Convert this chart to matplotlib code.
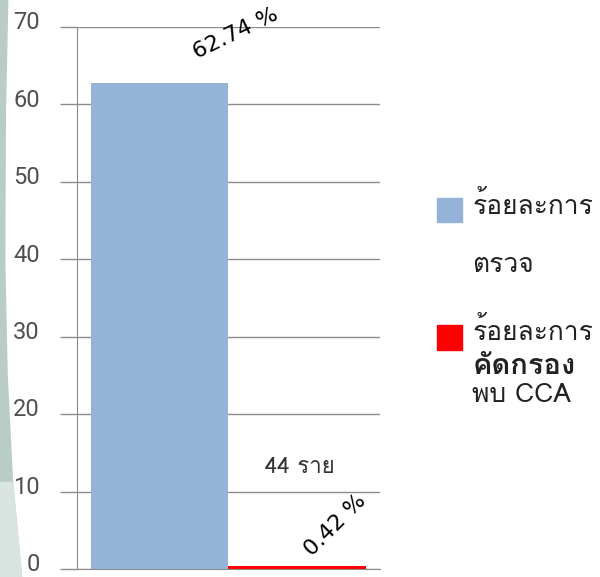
import numpy as np
import matplotlib.pyplot as plt
from matplotlib import font_manager
from matplotlib.ft2font import FT2Font
from matplotlib.patches import Polygon, Rectangle

# bar values (percent) and labels
categories = ["ตรวจ", "คัดกรอง"]
values = [62.74, 0.42]
bar_colors = ["#95b3d7", "#ff0000"]
value_labels = ["62.74 %", "0.42 %"]
count_label = "44 ราย"
yticks = [0, 10, 20, 30, 40, 50, 60, 70]


def pick_font(preferred, test_char):
    paths = sorted(font_manager.findSystemFonts())
    for name in preferred:
        for path in paths:
            if path.split("/")[-1] == name:
                return font_manager.FontProperties(fname=path).get_name()
    for path in paths:
        try:
            if FT2Font(path).get_char_index(ord(test_char)):
                return font_manager.FontProperties(fname=path).get_name()
        except Exception:
            continue
    return "DejaVu Sans"


thai = pick_font(["Waree.ttf", "Waree.otf", "Loma.otf", "Loma.ttf"], "ร")
plt.rcParams["font.family"] = [thai, "DejaVu Sans"]

fig = plt.figure(figsize=(6.0, 5.77), dpi=100)

# soft curved strip on the left edge
strip_top = Polygon([(0, 1), (0.014, 1), (0.010, 0.8), (0.009, 0.55),
                     (0.013, 0.35), (0.022, 0.165), (0.037, 0), (0, 0)],
                    closed=True, transform=fig.transFigure,
                    facecolor="#b9ccc8", edgecolor="none", zorder=-2)
fig.patches.append(strip_top)
strip_low = Polygon([(0, 0.165), (0.022, 0.165), (0.037, 0), (0, 0)],
                    closed=True, transform=fig.transFigure,
                    facecolor="#d9e3e0", edgecolor="none", zorder=-1)
fig.patches.append(strip_low)

ax = fig.add_axes([0.128, 0.0139, 0.505, 0.9393])
x = np.arange(len(values))
ax.bar(x, values, width=1.0, color=bar_colors, zorder=3)

ax.set_xlim(-0.6, 1.6)
ax.set_ylim(0, 70)
ax.set_yticks(yticks)
ax.set_yticklabels([])
ax.set_xticks([])
ax.yaxis.grid(True, color="#8c8c8c", linewidth=1.0, zorder=0)
ax.tick_params(axis="y", length=12, width=1.0, color="#8c8c8c")
for s in ["top", "right"]:
    ax.spines[s].set_visible(False)
ax.spines["left"].set_color("#8c8c8c")
ax.spines["bottom"].set_color("#8c8c8c")

# y labels sit a little above their gridlines
for v in yticks:
    ax.text(-0.122, v + 0.55, str(v), transform=ax.get_yaxis_transform(),
            ha="right", va="center", fontsize=17, color="#505050",
            family=["Roboto", "DejaVu Sans"])

# value labels, rotated
ax.text(0.55, 69.2, value_labels[0], rotation=26, ha="center", va="center",
        fontsize=16, family="DejaVu Sans", zorder=5)
ax.text(1.28, 5.6, value_labels[1], rotation=45, ha="center", va="center",
        fontsize=16, family="DejaVu Sans", zorder=5)
ax.text(1.02, 13.1, count_label, ha="center", va="center",
        fontsize=16, color="#333333", zorder=5)

# legend drawn by hand
fig.patches.append(Rectangle((0.728, 0.615), 0.042, 0.042,
                             transform=fig.transFigure, color=bar_colors[0]))
fig.patches.append(Rectangle((0.728, 0.394), 0.042, 0.042,
                             transform=fig.transFigure, color=bar_colors[1]))
fig.text(0.787, 0.644, "ร้อยละการ", fontsize=19, va="center", color="#222222")
fig.text(0.787, 0.540, "ตรวจ", fontsize=19, va="center", color="#222222")
fig.text(0.787, 0.427, "ร้อยละการ", fontsize=19, va="center", color="#222222")
fig.text(0.787, 0.366, "คัดกรอง", fontsize=21, va="center", color="#222222",
         fontweight="bold")
fig.text(0.787, 0.316, "พบ CCA", fontsize=19, va="center", color="#222222")

fig.savefig("out.png", dpi=100)
